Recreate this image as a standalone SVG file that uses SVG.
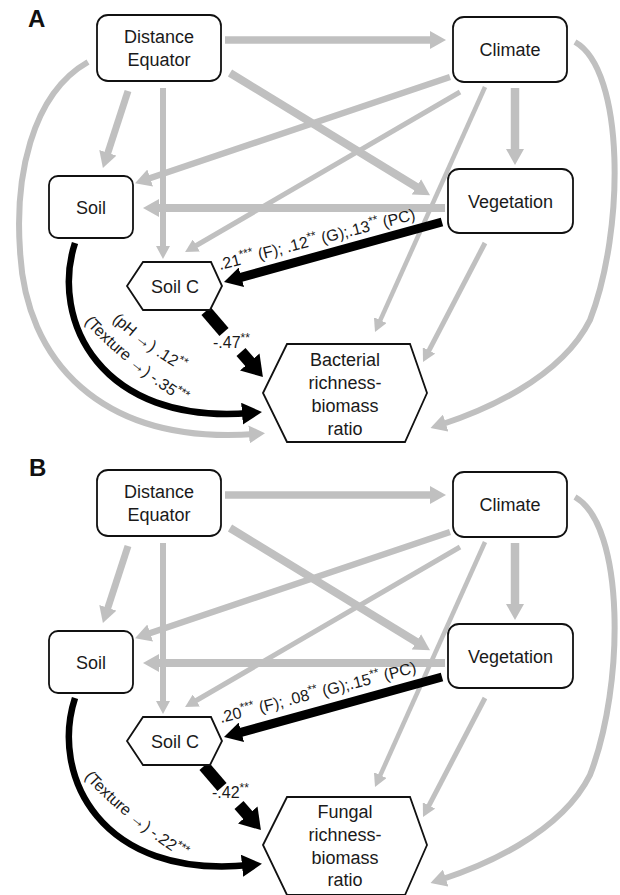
<svg xmlns="http://www.w3.org/2000/svg" width="620" height="895" viewBox="0 0 620 895">
<style>
.g{stroke:#c0c0c0;fill:none}
.k{stroke:#000;fill:none}
.box{fill:#fff;stroke:#111;stroke-width:1.8}
.lbl{font-family:"Liberation Sans",Arial,sans-serif;font-size:18px;fill:#1a1a1a;text-anchor:middle}
.ann{font-family:"Liberation Sans",Arial,sans-serif;font-size:16px;fill:#1a1a1a}
.sup{font-size:12px}
.pl{font-family:"Liberation Sans",Arial,sans-serif;font-size:24px;font-weight:bold;fill:#111}
</style>
<defs>
<marker id="gh" viewBox="0 0 16 18" markerWidth="16" markerHeight="18" refX="6" refY="9" orient="auto" markerUnits="userSpaceOnUse"><path d="M0,0 L16,9 L0,18 Z" fill="#c0c0c0"/></marker>
<marker id="gs" viewBox="0 0 13 14" markerWidth="13" markerHeight="14" refX="5" refY="7" orient="auto" markerUnits="userSpaceOnUse"><path d="M0,0 L13,7 L0,14 Z" fill="#c0c0c0"/></marker>
<marker id="bh" viewBox="0 0 20 22" markerWidth="20" markerHeight="22" refX="8" refY="11" orient="auto" markerUnits="userSpaceOnUse"><path d="M0,0 L20,11 L0,22 Z" fill="#000"/></marker>
<marker id="bv" viewBox="0 0 18 20" markerWidth="18" markerHeight="20" refX="7" refY="10" orient="auto" markerUnits="userSpaceOnUse"><path d="M0,0 L18,10 L0,20 Z" fill="#000"/></marker>
<marker id="bt" viewBox="0 0 20 26" markerWidth="20" markerHeight="26" refX="8" refY="13" orient="auto" markerUnits="userSpaceOnUse"><path d="M0,0 L20,13 L0,26 Z" fill="#000"/></marker>
<path id="tpTex" d="M84,322 Q130,372 205,418"/>
<path id="tpPh" d="M112,320 Q145,353 210,387"/>
</defs>

<text class="pl" x="28" y="27">A</text>
<g id="connectorsA">
<path class="g" stroke-width="7.5" d="M225,40 L436,40" marker-end="url(#gh)"/>
<path class="g" stroke-width="7" d="M128,91 L106,158.5" marker-end="url(#gh)"/>
<path class="g" stroke-width="6" d="M163,88 L163,251" marker-end="url(#gs)"/>
<path class="g" stroke-width="8" d="M230,73 L421.5,190" marker-end="url(#gh)"/>
<path class="g" stroke-width="6" d="M88,62 C30,95 15,180 20,250 C25,360 100,445 255,434" marker-end="url(#gh)"/>
<path class="g" stroke-width="6.5" d="M450,77 L144.5,180" marker-end="url(#gh)"/>
<path class="g" stroke-width="5" d="M460,92 L192,248" marker-end="url(#gs)"/>
<path class="g" stroke-width="8.5" d="M515,88 L515,155" marker-end="url(#gh)"/>
<path class="g" stroke-width="4.5" d="M485,87 L378.3,324.7" marker-end="url(#gs)"/>
<path class="g" stroke-width="6" d="M575,42 C625,70 625,230 590,320 C560,380 480,412 440,425" marker-end="url(#gh)"/>
<path class="g" stroke-width="8" d="M445,208 L153,208" marker-end="url(#gh)"/>
<path class="g" stroke-width="5" d="M485,243 L426.7,354.9" marker-end="url(#gs)"/>
<path class="k" stroke-width="9" d="M442,222 L234.6,279.1" marker-end="url(#bv)"/>
<path class="k" stroke-width="12" d="M206,311 L224,332"/>
<path class="k" stroke-width="12" d="M241,352 L255,368" marker-end="url(#bt)"/>
<path class="k" stroke-width="6.5" d="M75,243 C50,320 100,425 250,413" marker-end="url(#bh)"/>
<text class="ann" transform="translate(220,270) rotate(-14.5)">.21<tspan class="sup" dy="-6">***</tspan><tspan dy="6"> (F); .12</tspan><tspan class="sup" dy="-6">**</tspan><tspan dy="6"> (G);.13</tspan><tspan class="sup" dy="-6">**</tspan><tspan dy="6"> (PC)</tspan></text>
<text class="ann" x="213" y="348">-.47<tspan class="sup" dy="-6">**</tspan></text>
<text class="ann"><textPath href="#tpPh">(pH →) .12<tspan class="sup" dy="-6">**</tspan></textPath></text>
<text class="ann"><textPath href="#tpTex">(Texture →) -.35<tspan class="sup" dy="-6">***</tspan></textPath></text>
</g>
<g id="a-distance"><rect class="box" x="97" y="15" width="124" height="66" rx="11"/><text class="lbl" x="159" y="43">Distance</text><text class="lbl" x="159" y="66">Equator</text></g>
<g id="a-climate"><rect class="box" x="453" y="17" width="114" height="65" rx="11"/><text class="lbl" x="510" y="56">Climate</text></g>
<g id="a-vegetation"><rect class="box" x="448" y="169" width="125" height="64" rx="11"/><text class="lbl" x="510.5" y="207.5">Vegetation</text></g>
<g id="a-soil"><rect class="box" x="49" y="176" width="84" height="62" rx="9"/><text class="lbl" x="91" y="213.5">Soil</text></g>
<g id="a-soilc"><polygon class="box" points="127,286 143,262 211,262 222,286 210,310 143,310"/><text class="lbl" x="175" y="292.5">Soil C</text></g>
<g id="a-bacterial"><polygon class="box" points="263,393 287,344 410,344 427,393 405,442 287,442"/><text class="lbl" x="345" y="366">Bacterial</text><text class="lbl" x="345" y="389">richness-</text><text class="lbl" x="345" y="412">biomass</text><text class="lbl" x="345" y="435">ratio</text></g>

<text class="pl" x="29" y="476">B</text>
<g id="connectorsB" transform="translate(0,455)">
<path class="g" stroke-width="7.5" d="M225,40 L436,40" marker-end="url(#gh)"/>
<path class="g" stroke-width="7" d="M128,91 L106,158.5" marker-end="url(#gh)"/>
<path class="g" stroke-width="6" d="M163,88 L163,251" marker-end="url(#gs)"/>
<path class="g" stroke-width="8" d="M230,73 L421.5,190" marker-end="url(#gh)"/>
<path class="g" stroke-width="6.5" d="M450,77 L144.5,180" marker-end="url(#gh)"/>
<path class="g" stroke-width="5" d="M460,92 L192,248" marker-end="url(#gs)"/>
<path class="g" stroke-width="8.5" d="M515,88 L515,155" marker-end="url(#gh)"/>
<path class="g" stroke-width="4.5" d="M485,87 L378.3,324.7" marker-end="url(#gs)"/>
<path class="g" stroke-width="6" d="M575,42 C625,70 625,230 590,320 C560,380 480,412 440,425" marker-end="url(#gh)"/>
<path class="g" stroke-width="8" d="M445,208 L153,208" marker-end="url(#gh)"/>
<path class="g" stroke-width="5" d="M485,243 L426.7,354.9" marker-end="url(#gs)"/>
<path class="k" stroke-width="9" d="M442,222 L234.6,279.1" marker-end="url(#bv)"/>
<path class="k" stroke-width="12" d="M204,311 L222,332"/>
<path class="k" stroke-width="12" d="M239,350 L253,366" marker-end="url(#bt)"/>
<path class="k" stroke-width="6.5" d="M75,243 C50,320 100,425 250,410" marker-end="url(#bh)"/>
<text class="ann" transform="translate(221,268) rotate(-14.5)">.20<tspan class="sup" dy="-6">***</tspan><tspan dy="6"> (F); .08</tspan><tspan class="sup" dy="-6">**</tspan><tspan dy="6"> (G);.15</tspan><tspan class="sup" dy="-6">**</tspan><tspan dy="6"> (PC)</tspan></text>
<text class="ann" x="212" y="343">-.42<tspan class="sup" dy="-6">**</tspan></text>
<text class="ann"><textPath href="#tpTex">(Texture →) -.22<tspan class="sup" dy="-6">***</tspan></textPath></text>
</g>
<g id="b-distance" transform="translate(0,455)"><rect class="box" x="97" y="15" width="124" height="66" rx="11"/><text class="lbl" x="159" y="43">Distance</text><text class="lbl" x="159" y="66">Equator</text></g>
<g id="b-climate" transform="translate(0,455)"><rect class="box" x="453" y="17" width="114" height="65" rx="11"/><text class="lbl" x="510" y="56">Climate</text></g>
<g id="b-vegetation" transform="translate(0,455)"><rect class="box" x="448" y="169" width="125" height="64" rx="11"/><text class="lbl" x="510.5" y="207.5">Vegetation</text></g>
<g id="b-soil" transform="translate(0,455)"><rect class="box" x="49" y="176" width="84" height="62" rx="9"/><text class="lbl" x="91" y="213.5">Soil</text></g>
<g id="b-soilc" transform="translate(0,455)"><polygon class="box" points="127,286 143,262 211,262 222,286 210,310 143,310"/><text class="lbl" x="175" y="292.5">Soil C</text></g>
<g id="b-fungal" transform="translate(0,455)"><polygon class="box" points="263,390 287,342 410,342 427,390 405,440 287,440"/><text class="lbl" x="345" y="363">Fungal</text><text class="lbl" x="345" y="386">richness-</text><text class="lbl" x="345" y="409">biomass</text><text class="lbl" x="345" y="431">ratio</text></g>
</svg>
